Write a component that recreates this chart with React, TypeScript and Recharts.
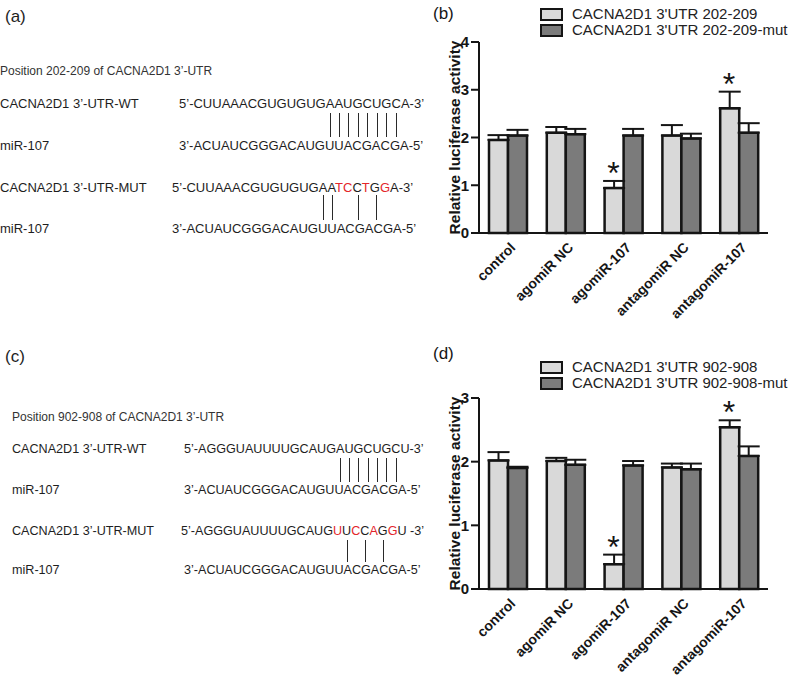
import { Bar, BarChart, ErrorBar, Legend, ReferenceDot, XAxis, YAxis } from "recharts";

const GROUPS = ["control", "agomiR NC", "agomiR-107", "antagomiR NC", "antagomiR-107"];
const SIGNIFICANT = [false, false, true, false, true];

const UTR202_WT = [1.95, 2.1, 0.94, 2.04, 2.61];
const UTR202_WT_SEM = [0.1, 0.12, 0.15, 0.22, 0.35];
const UTR202_MUT = [2.04, 2.07, 2.04, 1.98, 2.1];
const UTR202_MUT_SEM = [0.12, 0.11, 0.14, 0.1, 0.2];
const TICKS_202 = [0, 1, 2, 3, 4];

const UTR902_WT = [2.02, 2.01, 0.39, 1.91, 2.54];
const UTR902_WT_SEM = [0.13, 0.05, 0.15, 0.06, 0.11];
const UTR902_MUT = [1.9, 1.95, 1.94, 1.88, 2.09];
const UTR902_MUT_SEM = [0.02, 0.08, 0.07, 0.09, 0.15];
const TICKS_902 = [0, 1, 2, 3];

const SEQ_A_WT = "5\u2019-CUUAAACGUGUGUGAAUGCUGCA-3\u2019";
const SEQ_A_MUT = "5\u2019-CUUAAACGUGUGUGAATCCTGGA-3\u2019";
const SEQ_C_WT = "5\u2019-AGGGUAUUUUGCAUGAUGCUGCU-3\u2019";
const SEQ_C_MUT = "5\u2019-AGGGUAUUUUGCAUGUUCCAGGU -3\u2019";
const SEQ_MIR107 = "3\u2019-ACUAUCGGGACAUGUUACGACGA-5\u2019";
const PAIRS_A_WT = [17, 18, 19, 20, 21, 22, 23, 24];
const PAIRS_A_MUT = [17, 18, 21, 23];
const RED_A_MUT = [19, 20, 22, 24];
const PAIRS_C_WT = [18, 19, 20, 21, 22, 23, 24];
const PAIRS_C_MUT = [19, 21, 23];
const RED_C_MUT = [18, 20, 22, 24];

const LIGHT = "#d9d9d9";
const DARK = "#7b7b7b";
const INK = "#151515";
const FONT = '"Liberation Sans", Arial, sans-serif';
const PLOT_HEIGHT = 191;

function GroupTick({ x, y, payload }: any) {
  const ax = x + 5;
  const ay = y + 12;
  return (
    <text
      x={ax}
      y={ay}
      dy="0.35em"
      transform={`rotate(-45 ${ax} ${ay})`}
      textAnchor="end"
      fontFamily={FONT}
      fontSize={14}
      fontWeight="bold"
      fill={INK}
    >
      {payload.value}
    </text>
  );
}

// asterisk sits over the light (wild-type) bar, a little above its error cap
function Star({ cx, cy }: any) {
  return (
    <text x={cx - 10} y={cy + 3} textAnchor="middle" fontFamily={FONT} fontSize={32} fill={INK}>
      *
    </text>
  );
}

type PanelProps = {
  top: number;
  height: number;
  plotTop: number;
  letter: string;
  wt: number[];
  wtSem: number[];
  mut: number[];
  mutSem: number[];
  ticks: number[];
  names: string[];
  legendTop: number;
};

function LuciferasePanel({ top, height, plotTop, letter, wt, wtSem, mut, mutSem, ticks, names, legendTop }: PanelProps) {
  const data = GROUPS.map((group, i) => ({
    group,
    wt: wt[i],
    wtErr: [0, wtSem[i]],
    mut: mut[i],
    mutErr: [0, mutSem[i]],
  }));
  const fills = [LIGHT, DARK];

  const renderLegend = ({ payload }: any) => (
    <div style={{ fontFamily: FONT }}>
      {(payload ?? []).map((item: any, index: number) => (
        <div key={item.value} style={{ display: "flex", alignItems: "center", height: 16 }}>
          <span
            style={{
              display: "inline-block",
              boxSizing: "border-box",
              width: 23,
              height: 13,
              border: `2.5px solid ${INK}`,
              background: fills[index],
              marginRight: 9,
            }}
          />
          <span style={{ fontSize: 15, color: "#222", lineHeight: "16px", whiteSpace: "nowrap" }}>
            {item.value}
          </span>
        </div>
      ))}
    </div>
  );

  return (
    <div style={{ position: "absolute", left: 400, top, width: 400, height }}>
      <div style={{ position: "absolute", left: 33, top: 4, fontFamily: FONT, fontSize: 17, color: INK }}>
        {letter}
      </div>
      <BarChart
        width={400}
        height={height}
        data={data}
        margin={{ top: plotTop, right: 32, bottom: 0, left: 0 }}
        barGap={0}
      >
        <XAxis
          dataKey="group"
          height={height - plotTop - PLOT_HEIGHT}
          axisLine={{ stroke: INK, strokeWidth: 2 }}
          tickLine={false}
          tickSize={0}
          tickMargin={0}
          interval={0}
          tick={<GroupTick />}
        />
        <YAxis
          width={79}
          domain={[0, ticks[ticks.length - 1]]}
          ticks={ticks}
          interval={0}
          axisLine={{ stroke: INK, strokeWidth: 2 }}
          tickLine={{ stroke: INK, strokeWidth: 2 }}
          tickSize={8}
          tick={{ fill: INK, fontSize: 15, fontWeight: "bold", fontFamily: FONT }}
          label={{
            value: "Relative luciferase activity",
            angle: -90,
            position: "insideLeft",
            offset: 47,
            dx: 7,
            style: { textAnchor: "middle", fontWeight: "bold", fontSize: 15.5, fill: INK, fontFamily: FONT },
          }}
        />
        <Legend
          layout="vertical"
          align="center"
          verticalAlign="middle"
          content={renderLegend}
          wrapperStyle={{ top: legendTop, left: 140, width: "auto" }}
        />
        <Bar dataKey="wt" name={names[0]} fill={LIGHT} stroke={INK} strokeWidth={2.5} barSize={19} isAnimationActive={false}>
          <ErrorBar dataKey="wtErr" width={11} stroke={INK} strokeWidth={2} direction="y" />
        </Bar>
        <Bar dataKey="mut" name={names[1]} fill={DARK} stroke={INK} strokeWidth={2.5} barSize={19} isAnimationActive={false}>
          <ErrorBar dataKey="mutErr" width={11} stroke={INK} strokeWidth={2} direction="y" />
        </Bar>
        {GROUPS.map((group, i) =>
          SIGNIFICANT[i] ? (
            <ReferenceDot key={group} x={group} y={wt[i] + wtSem[i]} shape={<Star />} />
          ) : null,
        )}
      </BarChart>
    </div>
  );
}

function Sequence({ seq, red = [] }: { seq: string; red?: number[] }) {
  return (
    <>
      {seq.split("").map((ch, i) => (
        <span key={i} style={{ color: red.includes(i) ? "#e3262b" : undefined, whiteSpace: "pre" }}>
          {ch}
        </span>
      ))}
    </>
  );
}

function PairLines({ seq, pairs, left, top, height, fontSize }: any) {
  return (
    <div style={{ position: "absolute", left, top, fontSize, color: "transparent", lineHeight: `${height}px`, whiteSpace: "pre" }}>
      {seq.split("").map((ch: string, i: number) => (
        <span key={i} style={{ position: "relative", display: "inline-block", height }}>
          {ch}
          {pairs.includes(i) ? (
            <span style={{ position: "absolute", left: "50%", top: 0, width: 1, height, background: "#2a2a2a" }} />
          ) : null}
        </span>
      ))}
    </div>
  );
}

function TextRow({ y, left, fontSize, children, color }: any) {
  return (
    <div style={{ position: "absolute", left, top: y - 8, lineHeight: "16px", fontSize, color: color ?? "#1e1e1e", whiteSpace: "pre" }}>
      {children}
    </div>
  );
}

function SitePanel({ top, letter, header, labelLeft, fs, rows }: any) {
  return (
    <div style={{ position: "absolute", left: 0, top, width: 400, height: 340, fontFamily: FONT }}>
      <TextRow y={17} left={5} fontSize={17}>
        {letter}
      </TextRow>
      <TextRow y={rows.header} left={labelLeft} fontSize={12} color="#333">
        {header}
      </TextRow>
      <TextRow y={rows.wt} left={labelLeft} fontSize={fs}>
        CACNA2D1 3{"\u2019"}-UTR-WT
      </TextRow>
      <TextRow y={rows.wt} left={rows.wtX} fontSize={fs}>
        <Sequence seq={rows.wtSeq} />
      </TextRow>
      <PairLines seq={rows.wtSeq} pairs={rows.wtPairs} left={rows.wtX} top={rows.wtLine[0]} height={rows.wtLine[1]} fontSize={fs} />
      <TextRow y={rows.mir1} left={labelLeft} fontSize={fs}>
        miR-107
      </TextRow>
      <TextRow y={rows.mir1} left={rows.mir1X} fontSize={fs}>
        {SEQ_MIR107}
      </TextRow>
      <TextRow y={rows.mut} left={labelLeft} fontSize={fs}>
        CACNA2D1 3{"\u2019"}-UTR-MUT
      </TextRow>
      <TextRow y={rows.mut} left={rows.mutX} fontSize={fs}>
        <Sequence seq={rows.mutSeq} red={rows.mutRed} />
      </TextRow>
      <PairLines seq={rows.mutSeq} pairs={rows.mutPairs} left={rows.mutX} top={rows.mutLine[0]} height={rows.mutLine[1]} fontSize={fs} />
      <TextRow y={rows.mir2} left={labelLeft} fontSize={fs}>
        miR-107
      </TextRow>
      <TextRow y={rows.mir2} left={rows.mir2X} fontSize={fs}>
        {SEQ_MIR107}
      </TextRow>
    </div>
  );
}

export default function App() {
  return (
    <div style={{ position: "absolute", left: 0, top: 0, width: 800, height: 683, background: "#fff", overflow: "hidden" }}>
      <SitePanel
        top={0}
        letter="(a)"
        header={"Position 202-209 of CACNA2D1 3\u2019-UTR"}
        labelLeft={0}
        fs={13}
        rows={{
          header: 71,
          wt: 104,
          wtX: 179,
          wtSeq: SEQ_A_WT,
          wtPairs: PAIRS_A_WT,
          wtLine: [113, 24],
          mir1: 146,
          mir1X: 179,
          mut: 188,
          mutX: 172,
          mutSeq: SEQ_A_MUT,
          mutRed: RED_A_MUT,
          mutPairs: PAIRS_A_MUT,
          mutLine: [195, 25],
          mir2: 229,
          mir2X: 172,
        }}
      />
      <SitePanel
        top={340}
        letter="(c)"
        header={"Position 902-908 of CACNA2D1 3\u2019-UTR"}
        labelLeft={12}
        fs={12.6}
        rows={{
          header: 77,
          wt: 109,
          wtX: 184,
          wtSeq: SEQ_C_WT,
          wtPairs: PAIRS_C_WT,
          wtLine: [118, 24],
          mir1: 150,
          mir1X: 184,
          mut: 191,
          mutX: 181,
          mutSeq: SEQ_C_MUT,
          mutRed: RED_C_MUT,
          mutPairs: PAIRS_C_MUT,
          mutLine: [200, 22],
          mir2: 230,
          mir2X: 184,
        }}
      />
      <LuciferasePanel
        top={0}
        height={340}
        plotTop={42}
        letter="(b)"
        wt={UTR202_WT}
        wtSem={UTR202_WT_SEM}
        mut={UTR202_MUT}
        mutSem={UTR202_MUT_SEM}
        ticks={TICKS_202}
        names={["CACNA2D1 3'UTR 202-209", "CACNA2D1 3'UTR 202-209-mut"]}
        legendTop={6}
      />
      <LuciferasePanel
        top={340}
        height={343}
        plotTop={58}
        letter="(d)"
        wt={UTR902_WT}
        wtSem={UTR902_WT_SEM}
        mut={UTR902_MUT}
        mutSem={UTR902_MUT_SEM}
        ticks={TICKS_902}
        names={["CACNA2D1 3'UTR 902-908", "CACNA2D1 3'UTR 902-908-mut"]}
        legendTop={19}
      />
    </div>
  );
}
